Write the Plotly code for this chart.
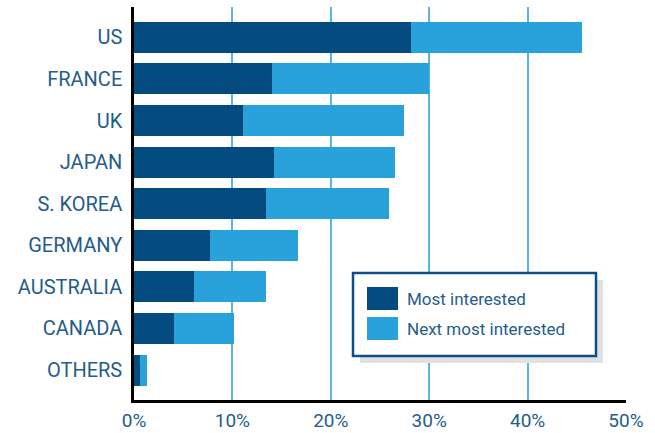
import plotly.graph_objects as go

# Share of respondents naming each market
countries = ["US", "FRANCE", "UK", "JAPAN", "S. KOREA", "GERMANY", "AUSTRALIA", "CANADA", "OTHERS"]
most_interested = [28.1, 14.0, 11.1, 14.2, 13.4, 7.7, 6.1, 4.1, 0.6]
next_most_interested = [17.4, 16.0, 16.3, 12.3, 12.5, 9.0, 7.3, 6.1, 0.7]
series_names = ["Most interested", "Next most interested"]
x_ticks = [0, 10, 20, 30, 40, 50]
x_tick_labels = ["0%", "10%", "20%", "30%", "40%", "50%"]

DARK = "#044b80"
LIGHT = "#29a1db"
TEXT = "#245c8c"
GRID = "#5ab3e3"
FONT = "Roboto"

W, H = 655, 433
ML, MR, MT, MB = 134, 29, 7, 33
PW, PH = W - ML - MR, H - MT - MB


def px(x):
    return (x - ML) / PW


def py(y):
    return (H - MB - y) / PH


fig = go.Figure()
fig.add_trace(go.Bar(y=countries, x=most_interested, orientation="h",
                     name=series_names[0], marker=dict(color=DARK, line=dict(width=0))))
fig.add_trace(go.Bar(y=countries, x=next_most_interested, orientation="h",
                     name=series_names[1], marker=dict(color=LIGHT, line=dict(width=0))))

# Legend box with drop shadow, drawn as shapes
shapes = [
    dict(type="rect", xref="paper", yref="paper", x0=px(360), x1=px(603), y0=py(363), y1=py(280),
         fillcolor="#e1e1e1", line=dict(width=0), layer="above"),
    dict(type="rect", xref="paper", yref="paper", x0=px(353), x1=px(596), y0=py(356), y1=py(273),
         fillcolor="white", line=dict(color="#0d4f86", width=2.5), layer="above"),
    dict(type="rect", xref="paper", yref="paper", x0=px(367), x1=px(398), y0=py(310), y1=py(287),
         fillcolor=DARK, line=dict(width=0), layer="above"),
    dict(type="rect", xref="paper", yref="paper", x0=px(367), x1=px(398), y0=py(340), y1=py(317),
         fillcolor=LIGHT, line=dict(width=0), layer="above"),
]
annotations = [
    dict(text=series_names[0], xref="paper", yref="paper", x=px(405), y=py(298.5),
         xanchor="left", yanchor="middle", showarrow=False,
         font=dict(family=FONT, size=17, color=TEXT)),
    dict(text=series_names[1], xref="paper", yref="paper", x=px(405), y=py(328.5),
         xanchor="left", yanchor="middle", showarrow=False,
         font=dict(family=FONT, size=17, color=TEXT)),
]

fig.update_layout(
    width=W, height=H,
    margin=dict(l=ML, r=MR, t=MT, b=MB, pad=0, autoexpand=False),
    barmode="stack", bargap=0.254,
    plot_bgcolor="white", paper_bgcolor="white",
    showlegend=False,
    shapes=shapes, annotations=annotations,
    font=dict(family=FONT, color=TEXT),
)
fig.update_xaxes(
    range=[0, 50], tickvals=x_ticks, ticktext=x_tick_labels,
    showgrid=True, gridcolor=GRID, gridwidth=1.5,
    zeroline=False, showline=True, linecolor="black", linewidth=2.5,
    ticks="", ticklabelstandoff=1, automargin=False,
    tickfont=dict(family=FONT, size=19, color=TEXT),
)
fig.update_yaxes(
    categoryorder="array", categoryarray=countries,
    range=[8.72, -0.73],
    showgrid=False, zeroline=False, showline=True, linecolor="black", linewidth=2.5,
    ticks="", ticklabelstandoff=5, automargin=False,
    tickfont=dict(family=FONT, size=20, color=TEXT),
)

fig.write_html("out.html")
